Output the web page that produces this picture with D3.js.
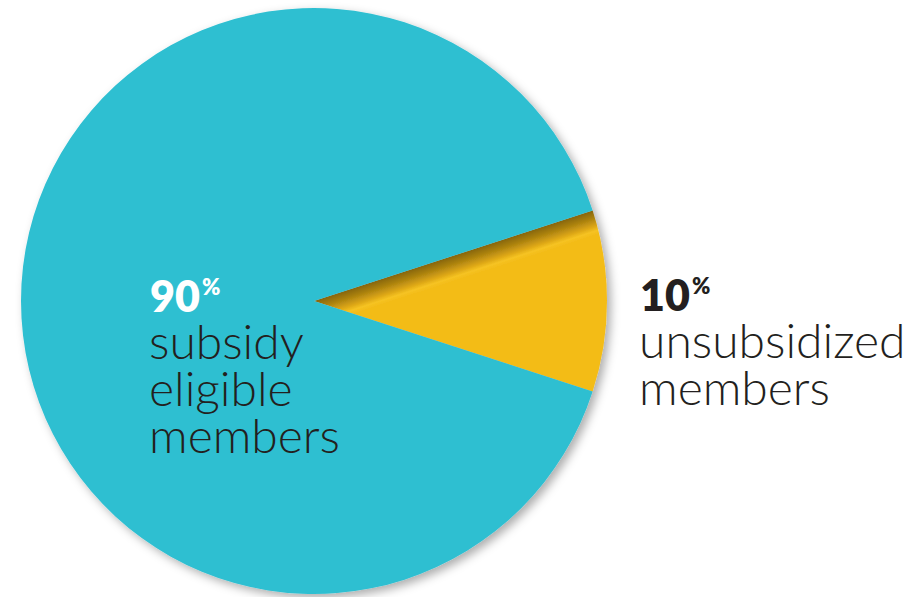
<!DOCTYPE html>
<html>
<head>
<meta charset="utf-8">
<script src="https://cdn.jsdelivr.net/npm/d3@7/dist/d3.min.js"></script>
<style>
  html, body { margin: 0; padding: 0; background: #ffffff; }
  svg { display: block; }
  text { font-family: Lato, "Open Sans", sans-serif; }
</style>
</head>
<body>
<svg id="chart" width="921" height="597"></svg>
<script>
// Membership split
const categories = ["unsubsidized members", "subsidy eligible members"];
const shares = [10, 90];
const colors = ["#f3bc19", "#2fbfd1"];
const labelLines = [["unsubsidized", "members"], ["subsidy", "eligible", "members"]];

const W = 921, H = 597;
const cx = 314, cy = 301, R = 293;

const svg = d3.select("#chart");
const defs = svg.append("defs");

// soft shadow under the disc
const shadow = defs.append("filter").attr("id", "discShadow")
  .attr("x", "-10%").attr("y", "-10%").attr("width", "120%").attr("height", "120%");
shadow.append("feDropShadow")
  .attr("dx", 4).attr("dy", 4).attr("stdDeviation", 5)
  .attr("flood-color", "#000").attr("flood-opacity", 0.32);

// pie starts so that the small slice is centred on 3 o'clock
const smallAngle = 2 * Math.PI * shares[0] / d3.sum(shares);
const start = Math.PI / 2 - smallAngle / 2;
const pie = d3.pie().sort(null).value(d => d)
  .startAngle(start).endAngle(start + 2 * Math.PI);
const arcs = pie(shares);
const arc = d3.arc().innerRadius(0).outerRadius(R);

// bevel shading along the upper edge of the small slice
const a0 = arcs[0].startAngle;
const band = 24;
const grad = defs.append("linearGradient").attr("id", "bevel")
  .attr("gradientUnits", "userSpaceOnUse")
  .attr("x1", 0).attr("y1", 0)
  .attr("x2", Math.cos(a0) * band).attr("y2", Math.sin(a0) * band);
[[0, "#86650f"], [0.3, "#a98010"], [0.65, "#dca615"], [0.85, "#f6c322"], [1, "#f3bc19"]]
  .forEach(([o, c]) => grad.append("stop").attr("offset", o).attr("stop-color", c));

const g = svg.append("g").attr("transform", `translate(${cx},${cy})`);
g.append("g").attr("filter", "url(#discShadow)")
  .selectAll("path").data(arcs).join("path")
  .attr("d", arc)
  .attr("fill", (d, i) => i === 0 ? "url(#bevel)" : colors[i]);

// labels: percentage line plus description lines in one text block
function drawLabel(x, y, pct, lines, pctColor) {
  const t = svg.append("text").attr("x", x).attr("y", y).attr("fill", "#231f20");
  t.append("tspan").text(pct)
    .attr("font-size", 43).attr("font-weight", 800).attr("fill", pctColor);
  t.append("tspan").text("%")
    .attr("font-size", 22).attr("font-weight", 800).attr("fill", pctColor)
    .attr("dy", -17).attr("dx", 2);
  lines.forEach((ln, i) => {
    t.append("tspan").text(ln)
      .attr("x", x - 1).attr("dy", i === 0 ? 17 + 47 : 47)
      .attr("font-size", 48).attr("font-weight", 300);
  });
}
drawLabel(150, 312, String(shares[1]), labelLines[1], "#ffffff");
drawLabel(640, 311, String(shares[0]), labelLines[0], "#231f20");
</script>
</body>
</html>
